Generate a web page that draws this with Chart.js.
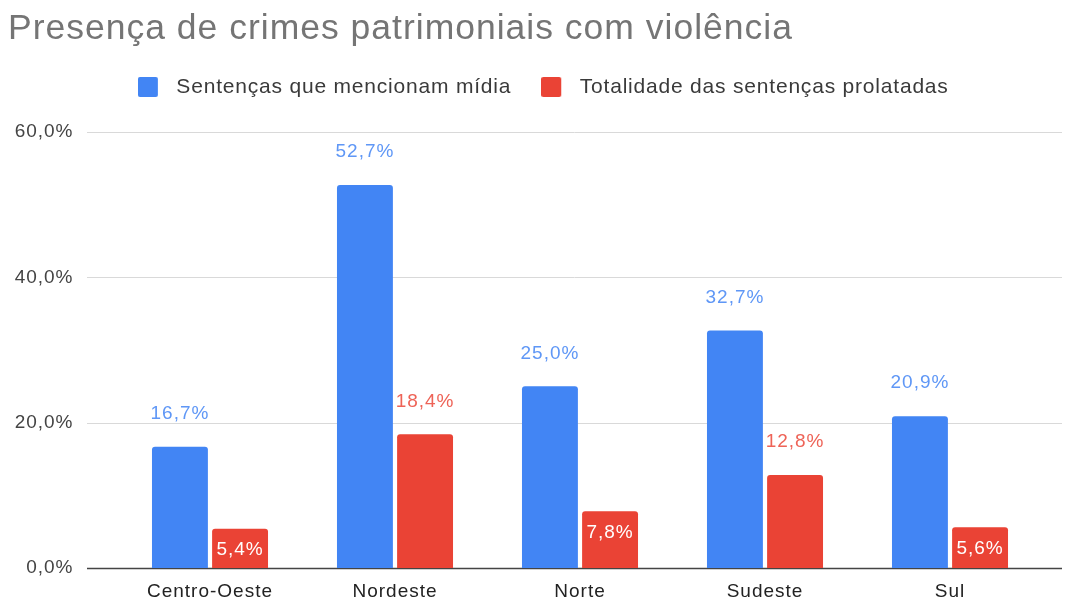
<!DOCTYPE html>
<html>
<head>
<meta charset="utf-8">
<script src="https://cdn.jsdelivr.net/npm/chart.js@4/dist/chart.umd.min.js"></script>
<style>
  html, body { margin: 0; padding: 0; background: #fff; overflow: hidden; }
  canvas { display: block; }
</style>
</head>
<body>
<canvas id="myChart" width="1066" height="602"></canvas>
<script>
"use strict";

const TITLE = "Presença de crimes patrimoniais com violência";
const REGIONS = ["Centro-Oeste", "Nordeste", "Norte", "Sudeste", "Sul"];
const SERIES_NAMES = ["Sentenças que mencionam mídia", "Totalidade das sentenças prolatadas"];
const MIDIA = [16.7, 52.7, 25.0, 32.7, 20.9];
const TOTAL = [5.4, 18.4, 7.8, 12.8, 5.6];
const Y_TICKS = [0, 20, 40, 60];

const BLUE = "#4285f4";
const RED = "#ea4335";
const FONT = "'Liberation Sans', Arial, sans-serif";
const SPACING = "1px";
const LEGEND_SPACING = "0.8px";

function pct(v)
{
    return v.toFixed(1).replace(".", ",") + "%";
}

// legend swatch: 20px square with some empty room after it, so the text sits further away
function swatch(color)
{
    const c = document.createElement("canvas");
    c.width = 28;
    c.height = 20;
    const g = c.getContext("2d");
    g.fillStyle = color;
    g.beginPath();
    g.roundRect(0, 0, 20, 20, 2);
    g.fill();
    return c;
}

// the original text is a bit wider than Arial, so space the letters out a little
const spacingPlugin = {
    id: "letterSpacing",
    beforeLayout(chart) {
        chart.ctx.letterSpacing = SPACING;
        const lg = chart.legend;
        if (lg && !lg._patched) {
            const fit = lg.fit.bind(lg);
            lg.fit = function () {
                chart.ctx.letterSpacing = LEGEND_SPACING;
                fit();
                chart.ctx.letterSpacing = SPACING;
                this.height = 85.5;   // plot starts at the same height as the original
            };
            const draw = lg.draw.bind(lg);
            lg.draw = function () {
                const ctx = chart.ctx;
                ctx.save();
                ctx.letterSpacing = LEGEND_SPACING;
                ctx.translate(18, 0);
                draw();
                ctx.restore();
            };
            lg._patched = true;
        }
    },
    beforeDraw(chart) {
        chart.ctx.letterSpacing = SPACING;
    }
};

// grid lines go wider than the plot area, like the original
const gridPlugin = {
    id: "wideGrid",
    beforeDatasetsDraw(chart) {
        const ctx = chart.ctx;
        const y = chart.scales.y;
        ctx.save();
        Y_TICKS.forEach(t => {
            const py = Math.round(y.getPixelForValue(t)) + 0.5;
            ctx.beginPath();
            ctx.moveTo(87, py);
            ctx.lineTo(1062, py);
            ctx.lineWidth = t === 0 ? 1.5 : 1;
            ctx.strokeStyle = t === 0 ? "#444" : "#d9d9d9";
            ctx.stroke();
        });
        ctx.restore();
    }
};

const labelPlugin = {
    id: "barLabels",
    afterDatasetsDraw(chart) {
        const ctx = chart.ctx;
        ctx.save();
        ctx.letterSpacing = SPACING;
        ctx.font = "19px " + FONT;
        ctx.textAlign = "center";
        ctx.textBaseline = "middle";
        chart.data.datasets.forEach((ds, di) => {
            const meta = chart.getDatasetMeta(di);
            meta.data.forEach((bar, i) => {
                const v = ds.data[i];
                if (di === 1 && v < 10) {
                    ctx.fillStyle = "#fff";
                    ctx.fillText(pct(v), bar.x, bar.y + 21);
                } else {
                    ctx.fillStyle = di === 0 ? "#5f97f6" : "#ee6357";
                    ctx.fillText(pct(v), bar.x, bar.y - 33);
                }
            });
        });
        ctx.restore();
    }
};

const data = {
    labels: REGIONS,
    datasets: [
        {
            label: SERIES_NAMES[0],
            data: MIDIA,
            backgroundColor: BLUE,
            pointStyle: swatch(BLUE),
            borderRadius: { topLeft: 3, topRight: 3 },
            borderSkipped: "bottom"
        },
        {
            label: SERIES_NAMES[1],
            data: TOTAL,
            backgroundColor: RED,
            pointStyle: swatch(RED),
            borderRadius: { topLeft: 3, topRight: 3 },
            borderSkipped: "bottom"
        }
    ]
};

const config = {
    type: "bar",
    data: data,
    options: {
        responsive: false,
        animation: false,
        layout: { padding: { left: 8, right: 23.5, top: 0, bottom: 0 } },
        datasets: {
            bar: { categoryPercentage: 0.65, barPercentage: 0.93 }
        },
        plugins: {
            title: {
                display: true,
                text: TITLE,
                align: "start",
                color: "#757575",
                font: { family: FONT, size: 35.5, weight: "normal", lineHeight: 1 },
                padding: { top: 11, bottom: 0 }
            },
            legend: {
                display: true,
                position: "top",
                labels: {
                    usePointStyle: true,
                    pointStyleWidth: 28,
                    boxHeight: 20,
                    color: "#3a3a3a",
                    padding: 30,
                    font: { family: FONT, size: 21, lineHeight: 1 }
                }
            },
            tooltip: { enabled: false }
        },
        scales: {
            x: {
                grid: { display: false, drawTicks: false },
                border: { display: false },
                ticks: {
                    color: "#222",
                    padding: 12,
                    font: { family: FONT, size: 19 }
                },
                afterFit(scale) { scale.height = 34; }
            },
            y: {
                min: 0,
                max: 60,
                grid: { display: false, drawTicks: false },
                border: { display: false },
                afterBuildTicks(scale) {
                    scale.ticks = Y_TICKS.map(v => ({ value: v }));
                },
                ticks: {
                    color: "#444",
                    padding: 44,
                    font: { family: FONT, size: 19 },
                    callback: v => pct(v)
                },
                afterFit(scale) {
                    scale.width = 109.5;
                    scale.paddingTop = 0;
                    scale.paddingBottom = 0;
                }
            }
        }
    },
    plugins: [spacingPlugin, gridPlugin, labelPlugin]
};

const myChart = new Chart(document.getElementById("myChart"), config);
</script>
</body>
</html>
